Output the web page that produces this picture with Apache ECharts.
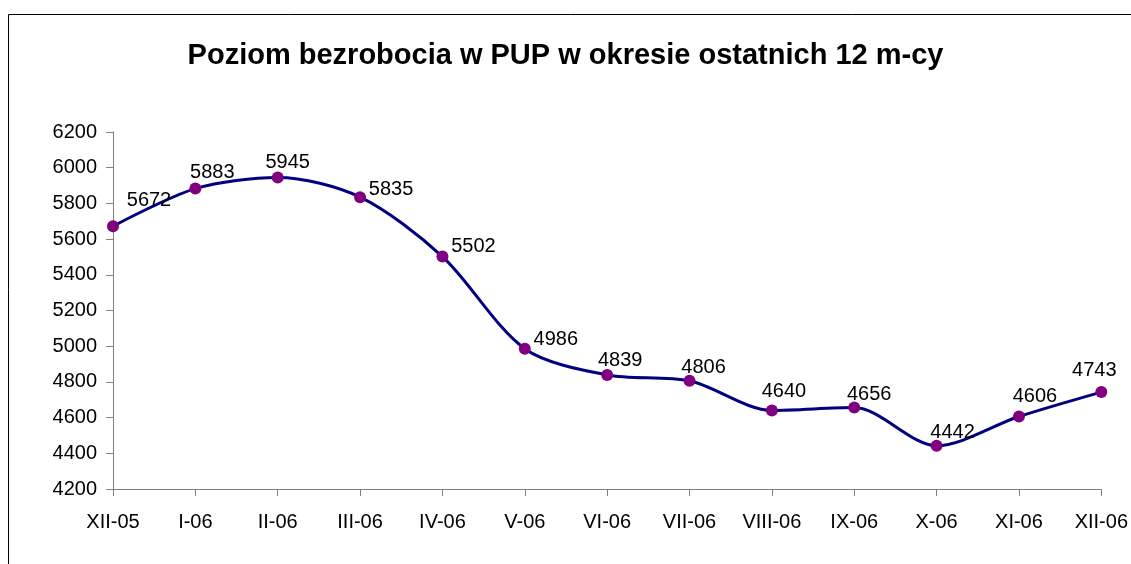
<!DOCTYPE html>
<html>
<head>
<meta charset="utf-8">
<script src="https://cdn.jsdelivr.net/npm/echarts@6/dist/echarts.min.js"></script>
<style>
html, body { margin: 0; padding: 0; background: #fff; }
#chart { width: 1131px; height: 564px; }
</style>
</head>
<body>
<div id="chart"></div>
<script>
// dane
var months = ['XII-05', 'I-06', 'II-06', 'III-06', 'IV-06', 'V-06', 'VI-06', 'VII-06', 'VIII-06', 'IX-06', 'X-06', 'XI-06', 'XII-06'];
var unemployed = [5672, 5883, 5945, 5835, 5502, 4986, 4839, 4806, 4640, 4656, 4442, 4606, 4743];
var yTicks = { min: 4200, max: 6200, step: 200 };

// przesuniecia etykiet wzgledem pozycji 'top' (tylko wyglad)
var labelShift = [[36, -10], [17, 0], [10, 1], [31, 8], [31, 6], [31, 7], [13, 2], [14, 3], [12, -3], [15, 3], [16, 3], [16, -4], [-7, -6]];

var chart = echarts.init(document.getElementById('chart'));

var seriesData = unemployed.map(function (v, i) {
    return {
        value: v,
        label: { offset: labelShift[i] }
    };
});

var font = 'Liberation Sans, Arial, sans-serif';

var option = {
    animation: false,
    backgroundColor: '#fff',
    textStyle: { fontFamily: font },
    title: {
        text: 'Poziom bezrobocia w PUP w okresie ostatnich 12 m-cy',
        left: 'center',
        top: 36,
        textStyle: { fontSize: 29, fontWeight: 'bold', color: '#000', fontFamily: font }
    },
    graphic: [{
        type: 'rect',
        shape: { x: 8.5, y: 14.5, width: 1200, height: 600 },
        style: { fill: 'none', stroke: '#000', lineWidth: 1 },
        silent: true
    }],
    grid: { left: 113, right: 28, top: 132, bottom: 75 },
    xAxis: {
        type: 'category',
        data: months,
        boundaryGap: false,
        axisLine: { lineStyle: { color: '#808080', width: 1 } },
        axisTick: { show: true, length: 7, alignWithLabel: true, lineStyle: { color: '#808080' } },
        axisLabel: { color: '#000', fontSize: 20, margin: 23, interval: 0 },
        splitLine: { show: false }
    },
    yAxis: {
        type: 'value',
        min: yTicks.min,
        max: yTicks.max,
        interval: yTicks.step,
        axisLine: { show: true, lineStyle: { color: '#808080', width: 1 } },
        axisTick: { show: true, length: 7, lineStyle: { color: '#808080' } },
        axisLabel: { color: '#000', fontSize: 20, margin: 16, formatter: function (v) { return String(v); } },
        splitLine: { show: false }
    },
    series: [{
        type: 'line',
        data: seriesData,
        smooth: 0.3,
        symbol: 'circle',
        symbolSize: 12,
        lineStyle: { color: '#000080', width: 3 },
        itemStyle: { color: '#800080' },
        label: {
            show: true,
            position: 'top',
            color: '#000',
            fontSize: 20,
            distance: 0
        }
    }]
};

chart.setOption(option);
</script>
</body>
</html>
